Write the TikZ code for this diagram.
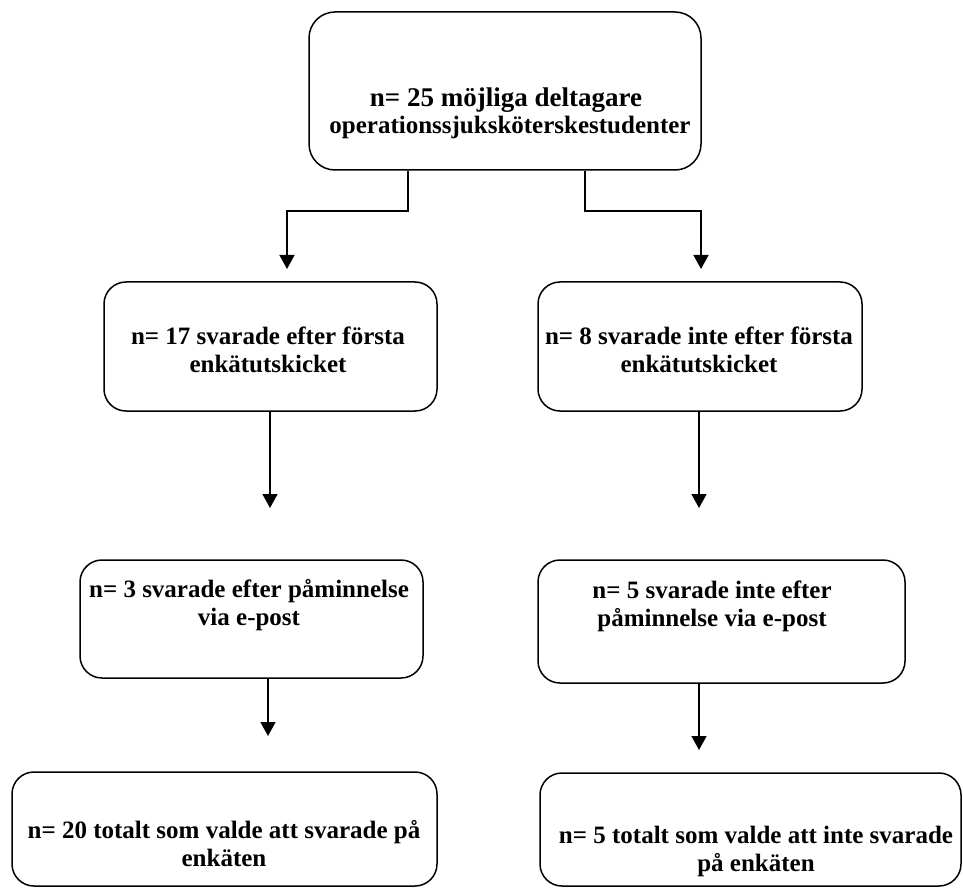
\documentclass[tikz,border=0pt]{standalone}
\usepackage{fontspec}
\setmainfont{Liberation Serif}
\usetikzlibrary{arrows.meta}
\begin{document}
\begin{tikzpicture}[x=1pt,y=-1pt,
  box/.style={draw, line width=1.5pt, rounded corners=22pt, inner sep=0pt},
  lbl/.style={font=\bfseries\fontsize{25}{28}\selectfont, align=center, inner sep=0pt},
  arr/.style={line width=1.5pt, -{Triangle[width=15pt,length=14pt]}}]
\useasboundingbox (0,0) rectangle (963,890);
% boxes
\node[box, rounded corners=26pt, minimum width=392pt, minimum height=158pt] (b1) at (505,91) {};
\node[box, minimum width=333pt, minimum height=129pt] (b2) at (270.5,346.5) {};
\node[box, minimum width=324pt, minimum height=129pt] (b3) at (700,346.5) {};
\node[box, minimum width=343pt, minimum height=118pt] (b4) at (251.5,619) {};
\node[box, minimum width=367pt, minimum height=123pt] (b5) at (721.5,621.5) {};
\node[box, minimum width=425pt, minimum height=114pt] (b6) at (224.5,829) {};
\node[box, minimum width=421pt, minimum height=113pt] (b7) at (750.5,829.5) {};
% texts
\node[lbl, font=\bfseries\fontsize{27}{30}\selectfont] (t1) at (506,100) {n= 25 möjliga deltagare};
\node[lbl, font=\bfseries\fontsize{25}{28}\selectfont] (t1b) at (510,127) {operationssjuksköterskestudenter};
\node[lbl] (t2) at (268,350) {n= 17 svarade efter första\\enkätutskicket};
\node[lbl] (t3) at (699,350) {n= 8 svarade inte efter första\\enkätutskicket};
\node[lbl] (t4) at (249,605) {n= 3 svarade efter påminnelse\\via e-post};
\node[lbl] (t5) at (712,606) {n= 5 svarade inte efter\\påminnelse via e-post};
\node[lbl] (t6) at (224,844) {n= 20 totalt som valde att svarade på\\enkäten};
\node[lbl] (t7) at (756,851) {n= 5 totalt som valde att inte svarade\\på enkäten};
% connector points
\coordinate (k1) at (408,211);
\coordinate (e1) at (287,269);
\coordinate (k2) at (585,211);
\coordinate (e2) at (701,269);
\coordinate (e3) at (270,508);
\coordinate (e4) at (699,508);
\coordinate (e5) at (268,736);
\coordinate (e6) at (699,750);
% connectors
\draw[arr] (b1.south -| k1) -- (k1) -| (e1);
\draw[arr] (b1.south -| k2) -- (k2) -| (e2);
\draw[arr] (b2.south -| e3) -- (e3);
\draw[arr] (b3.south -| e4) -- (e4);
\draw[arr] (b4.south -| e5) -- (e5);
\draw[arr] (b5.south -| e6) -- (e6);
\end{tikzpicture}
\end{document}
